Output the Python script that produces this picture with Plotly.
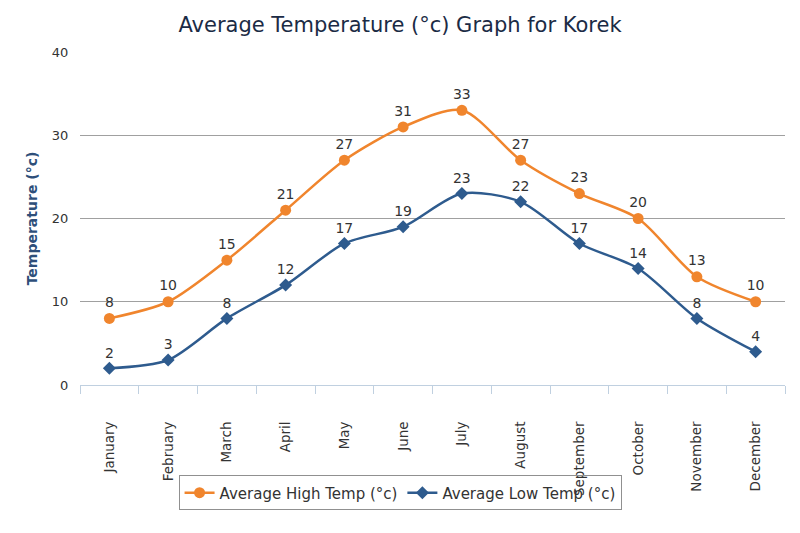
import plotly.graph_objects as go

months = ["January", "February", "March", "April", "May", "June", "July",
          "August", "September", "October", "November", "December"]
high_temp = [8, 10, 15, 21, 27, 31, 33, 27, 23, 20, 13, 10]
low_temp = [2, 3, 8, 12, 17, 19, 23, 22, 17, 14, 8, 4]

orange = "#f0852d"
blue = "#2e5b8e"
font = "DejaVu Sans"

fig = go.Figure()
fig.add_trace(go.Scatter(
    x=months, y=high_temp, name="Average High Temp (°c)",
    mode="lines+markers+text", text=[str(v) for v in high_temp],
    textposition="top center", textfont=dict(size=14, color="#333333", family=font),
    line=dict(color=orange, width=2.5, shape="spline", smoothing=0.8),
    marker=dict(symbol="circle", size=11, color=orange),
))
fig.add_trace(go.Scatter(
    x=months, y=low_temp, name="Average Low Temp (°c)",
    mode="lines+markers+text", text=[str(v) for v in low_temp],
    textposition="top center", textfont=dict(size=14, color="#333333", family=font),
    line=dict(color=blue, width=2.5, shape="spline", smoothing=0.8),
    marker=dict(symbol="diamond", size=10, color=blue),
))

fig.update_layout(
    width=800, height=533,
    margin=dict(l=72, r=23, t=44, b=156),
    paper_bgcolor="white", plot_bgcolor="white",
    font=dict(family=font, color="#333333"),
    title=dict(text="Average Temperature (°c) Graph for Korek", x=0.49, xanchor="center",
               y=0.968, yanchor="middle",
               font=dict(family=font, size=21, color="#1b2b45")),
    showlegend=True,
    legend=dict(orientation="h", x=0.454, xanchor="center", y=-0.324, yanchor="middle",
                bordercolor="#909090", borderwidth=1, bgcolor="rgba(255,255,255,0)",
                font=dict(size=15, color="#333333", family=font)),
    xaxis=dict(type="category", range=[-0.5, 11.5], showgrid=False,
               showline=True, linecolor="#c0d0e0", linewidth=1,
               ticks="outside", ticklen=8, tickcolor="#c0d0e0", tickson="boundaries",
               ticklabelstandoff=30,
               tickangle=-90, tickfont=dict(size=13.5, color="#333333", family=font)),
    yaxis=dict(range=[0, 40], dtick=10, showgrid=True, gridcolor="#a0a0a0", gridwidth=1,
               zeroline=False, showline=False, ticks="outside", ticklen=8,
               tickcolor="rgba(0,0,0,0)",
               tickfont=dict(size=13, color="#333333", family=font),
               title=dict(text="<b>Temperature (°c)</b>", standoff=10,
                          font=dict(size=14, color="#2e4f7a", family=font))),
)

fig.write_html("out.html")
